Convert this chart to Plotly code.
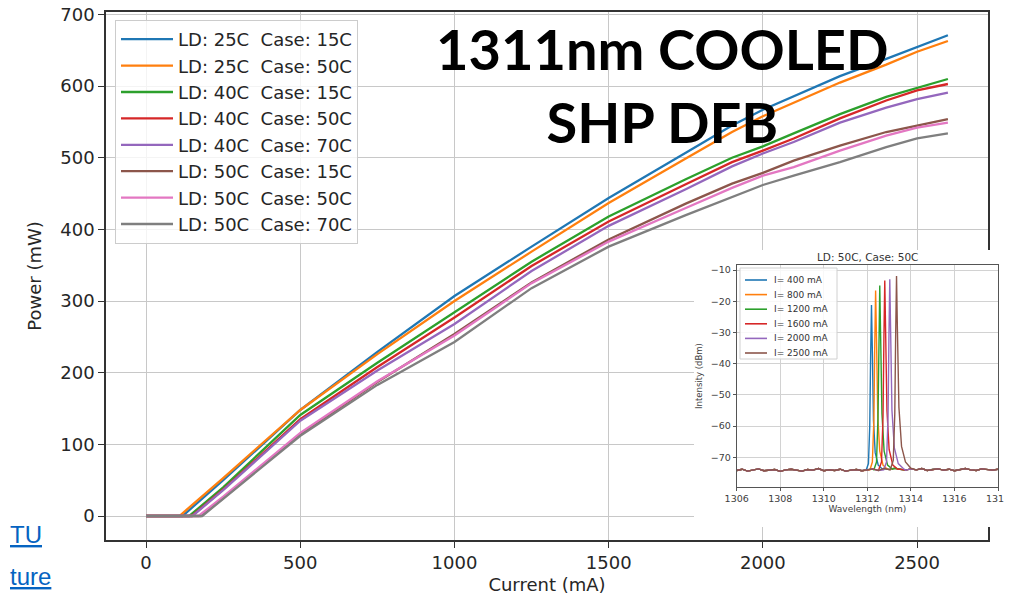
import plotly.graph_objects as go

# ---------------- main chart data ----------------
series_names = [
    "LD: 25C \u00a0Case: 15C",
    "LD: 25C \u00a0Case: 50C",
    "LD: 40C \u00a0Case: 15C",
    "LD: 40C \u00a0Case: 50C",
    "LD: 40C \u00a0Case: 70C",
    "LD: 50C \u00a0Case: 15C",
    "LD: 50C \u00a0Case: 50C",
    "LD: 50C \u00a0Case: 70C",
]
threshold_ma = [118, 108, 140, 148, 150, 178, 170, 182]
current_ma = [250, 500, 750, 1000, 1250, 1500, 1750, 1900, 2000, 2100, 2250, 2400, 2500, 2600]
power_25_15 = [50, 148, 229, 307, 376, 444, 507, 545, 567, 586, 614, 638, 655, 671]
power_25_50 = [53, 148, 226, 300, 369, 437, 499, 536, 558, 577, 605, 630, 648, 663]
power_40_15 = [40, 141, 214, 284, 355, 418, 470, 500, 516, 534, 561, 585, 597, 610]
power_40_50 = [37, 135, 208, 277, 349, 411, 463, 494, 510, 527, 555, 580, 594, 603]
power_40_70 = [36, 133, 203, 268, 342, 405, 456, 488, 506, 522, 549, 570, 582, 591]
power_50_15 = [25, 114, 187, 254, 326, 386, 436, 464, 479, 496, 517, 536, 545, 554]
power_50_50 = [27, 116, 188, 252, 325, 383, 430, 458, 475, 487, 510, 531, 542, 549]
power_50_70 = [24, 112, 183, 243, 318, 376, 420, 445, 462, 475, 494, 515, 527, 534]
power_series = [power_25_15, power_25_50, power_40_15, power_40_50,
                power_40_70, power_50_15, power_50_50, power_50_70]

# ---------------- inset spectra data ----------------
inset_labels = ["I= 400 mA", "I= 800 mA", "I= 1200 mA", "I= 1600 mA", "I= 2000 mA", "I= 2500 mA"]
floor_wl = [1306 + 0.25 * i for i in range(49)]
floor_db = [-74.2, -73.8, -74.4, -74.0, -73.7, -74.3, -74.1, -73.9, -74.5, -74.0,
            -73.8, -74.2, -74.4, -73.9, -74.1, -73.6, -74.3, -74.0, -74.2, -73.8,
            -74.4, -74.1, -73.9, -74.3, -74.0, -73.7, -74.2, -73.6, -73.9, -73.5,
            -73.8, -74.1, -73.7, -74.0, -73.6, -74.2, -73.9, -73.7, -74.1, -73.8,
            -74.3, -73.9, -73.6, -74.0, -74.2, -73.7, -73.9, -74.1, -73.8]
peak_wl = [
    [1311.95, 1312.05, 1312.11, 1312.15, 1312.19, 1312.23, 1312.28, 1312.36, 1312.50, 1312.70],
    [1312.12, 1312.23, 1312.30, 1312.34, 1312.38, 1312.42, 1312.48, 1312.57, 1312.72, 1312.92],
    [1312.30, 1312.42, 1312.49, 1312.53, 1312.57, 1312.61, 1312.67, 1312.77, 1312.93, 1313.15],
    [1312.52, 1312.65, 1312.72, 1312.76, 1312.80, 1312.84, 1312.90, 1313.00, 1313.17, 1313.40],
    [1312.75, 1312.88, 1312.95, 1312.99, 1313.03, 1313.07, 1313.13, 1313.24, 1313.42, 1313.65],
    [1313.05, 1313.19, 1313.26, 1313.30, 1313.34, 1313.38, 1313.45, 1313.57, 1313.75, 1314.00],
]
peak_db = [
    [-74.0, -72.0, -60.0, -38.0, -21.2, -36.0, -58.0, -68.5, -72.5, -73.8],
    [-74.0, -71.5, -58.0, -34.0, -16.6, -32.0, -57.0, -68.0, -72.5, -73.8],
    [-74.0, -71.5, -57.0, -33.0, -15.0, -31.0, -56.0, -68.0, -72.5, -73.8],
    [-74.0, -71.5, -57.0, -32.0, -13.4, -30.0, -55.0, -67.5, -72.5, -73.8],
    [-74.0, -71.5, -57.0, -32.0, -13.0, -30.0, -55.0, -67.0, -72.0, -73.6],
    [-74.0, -71.0, -56.0, -31.0, -11.9, -29.0, -54.0, -66.5, -71.5, -73.5],
]

colors = ["#1f77b4", "#ff7f0e", "#2ca02c", "#d62728", "#9467bd", "#8c564b", "#e377c2", "#7f7f7f"]

# ---------------- geometry helpers (screen pixels -> paper) ----------------
W, H = 1021, 597
OFF = 8  # page body margin offsets the figure in the window
ML, MT = 106 - OFF, 12 - OFF
MR = W - (1005 - OFF)
MB = H - (540 - OFF)
PW, PH = W - ML - MR, H - MT - MB


def px(x):
    return (x - OFF - ML) / PW


def py(y):
    return (H - MB - (y - OFF)) / PH


fig = go.Figure()

for name, thr, vals, col in zip(series_names, threshold_ma, power_series, colors):
    fig.add_trace(go.Scatter(
        x=[0, thr] + current_ma, y=[0, 0] + vals, mode="lines", name=name,
        line=dict(color=col, width=2.3), xaxis="x", yaxis="y"))

# blank subplot acting as the white inset background
fig.add_trace(go.Scatter(x=[], y=[], xaxis="x2", yaxis="y2", showlegend=False, hoverinfo="skip"))

for lab, wl, db, col in zip(inset_labels, peak_wl, peak_db, colors):
    xs = [w for w in floor_wl if w < wl[0]] + wl + [w for w in floor_wl if w > wl[-1]]
    ys = ([d for w, d in zip(floor_wl, floor_db) if w < wl[0]] + db +
          [d for w, d in zip(floor_wl, floor_db) if w > wl[-1]])
    fig.add_trace(go.Scatter(x=xs, y=ys, mode="lines", name=lab, showlegend=False,
                             line=dict(color=col, width=1.4), xaxis="x3", yaxis="y3"))

font_main = "DejaVu Sans"
axis_common = dict(showline=True, mirror=True, linecolor="#333333", linewidth=1.5,
                   ticks="outside", ticklen=6, tickwidth=1.3, tickcolor="#333333",
                   showgrid=True, gridcolor="#c8c8c8", gridwidth=1.4, zeroline=False,
                   automargin=False, ticklabeloverflow="allow",
                   tickfont=dict(family=font_main, size=18, color="#262626"))

inset_common = dict(showline=True, mirror=True, linecolor="#555555", linewidth=1,
                    ticks="outside", ticklen=3, tickwidth=1, tickcolor="#555555",
                    showgrid=True, gridcolor="#d2d2d2", gridwidth=1, zeroline=False,
                    automargin=False, ticklabeloverflow="allow",
                    tickfont=dict(family=font_main, size=9.5, color="#404040"))

fig.update_layout(
    width=W, height=H,
    margin=dict(l=ML, r=MR, t=MT, b=MB, autoexpand=False),
    paper_bgcolor="white", plot_bgcolor="white",
    showlegend=True,
    xaxis=dict(domain=[0, px(988)], range=[-130, 2730], tickvals=[0, 500, 1000, 1500, 2000, 2500],
               title=dict(text="Current (mA)", font=dict(family=font_main, size=18, color="#262626"),
                          standoff=6),
               **axis_common),
    yaxis=dict(domain=[0, 1], range=[-33.5, 703.5], tickvals=[0, 100, 200, 300, 400, 500, 600, 700],
               title=dict(text="Power (mW)", font=dict(family=font_main, size=18, color="#262626"),
                          standoff=14),
               **axis_common),
    xaxis2=dict(domain=[px(694), 1], range=[0, 1], visible=False, anchor="y2"),
    yaxis2=dict(domain=[py(527), py(250)], range=[0, 1], visible=False, anchor="x2"),
    xaxis3=dict(domain=[px(736.7), px(998)], range=[1306, 1318], anchor="y3",
                tickvals=[1306, 1308, 1310, 1312, 1314, 1316, 1318],
                title=dict(text="Wavelength (nm)", font=dict(family=font_main, size=9, color="#404040"),
                           standoff=2),
                **inset_common),
    yaxis3=dict(domain=[py(487), py(265)], range=[-79.5, -8.4], anchor="x3",
                tickvals=[-70, -60, -50, -40, -30, -20, -10],
                title=dict(text="Intensity (dBm)", font=dict(family=font_main, size=8.5, color="#404040"),
                           standoff=6),
                **inset_common),
    legend=dict(x=px(115), y=py(20), xanchor="left", yanchor="top",
                font=dict(family=font_main, size=18, color="#262626"),
                bgcolor="rgba(255,255,255,0.8)", bordercolor="#cccccc", borderwidth=1,
                itemwidth=52, tracegroupgap=0),
)

shapes = []
annotations = []

# inset legend (manual, compact like the original)
shapes.append(dict(type="rect", xref="paper", yref="paper", x0=px(740), x1=px(837), y0=py(359), y1=py(268),
                   fillcolor="rgba(255,255,255,0.85)", line=dict(color="#d0d0d0", width=1), layer="above"))
for i, (lab, col) in enumerate(zip(inset_labels, colors)):
    yrow = 280 + i * 14.6
    shapes.append(dict(type="line", xref="paper", yref="paper", x0=px(745), x1=px(767), y0=py(yrow), y1=py(yrow),
                       line=dict(color=col, width=1.6), layer="above"))
    annotations.append(dict(text=lab, xref="paper", yref="paper", x=px(772), y=py(yrow), xanchor="left",
                            yanchor="middle", showarrow=False,
                            font=dict(family=font_main, size=9, color="#333333")))

# cut the last inset tick label like the cropped original
shapes.append(dict(type="rect", xref="paper", yref="paper", x0=px(1004), x1=px(1030), y0=py(505), y1=py(489),
                   fillcolor="white", line=dict(width=0), layer="above"))

annotations.append(dict(text="LD: 50C, Case: 50C", xref="paper", yref="paper", x=px(867), y=py(257),
                        xanchor="center", yanchor="middle", showarrow=False,
                        font=dict(family=font_main, size=10.5, color="#333333")))

annotations.append(dict(text="<b>1311nm COOLED<br>SHP DFB</b>", xref="paper", yref="paper",
                        x=px(662), y=py(85), xanchor="center", yanchor="middle", showarrow=False,
                        font=dict(family="Lato", size=56, color="black")))

annotations.append(dict(text="<u>TU</u>", xref="paper", yref="paper", x=px(8), y=py(534),
                        xanchor="left", yanchor="middle", showarrow=False,
                        font=dict(family="Liberation Sans", size=24, color="#0563C1")))
annotations.append(dict(text="<u>ture</u>", xref="paper", yref="paper", x=px(53), y=py(576),
                        xanchor="right", yanchor="middle", showarrow=False,
                        font=dict(family="Liberation Sans", size=24, color="#0563C1")))

fig.update_layout(shapes=shapes, annotations=annotations)

fig.write_html("out.html")
